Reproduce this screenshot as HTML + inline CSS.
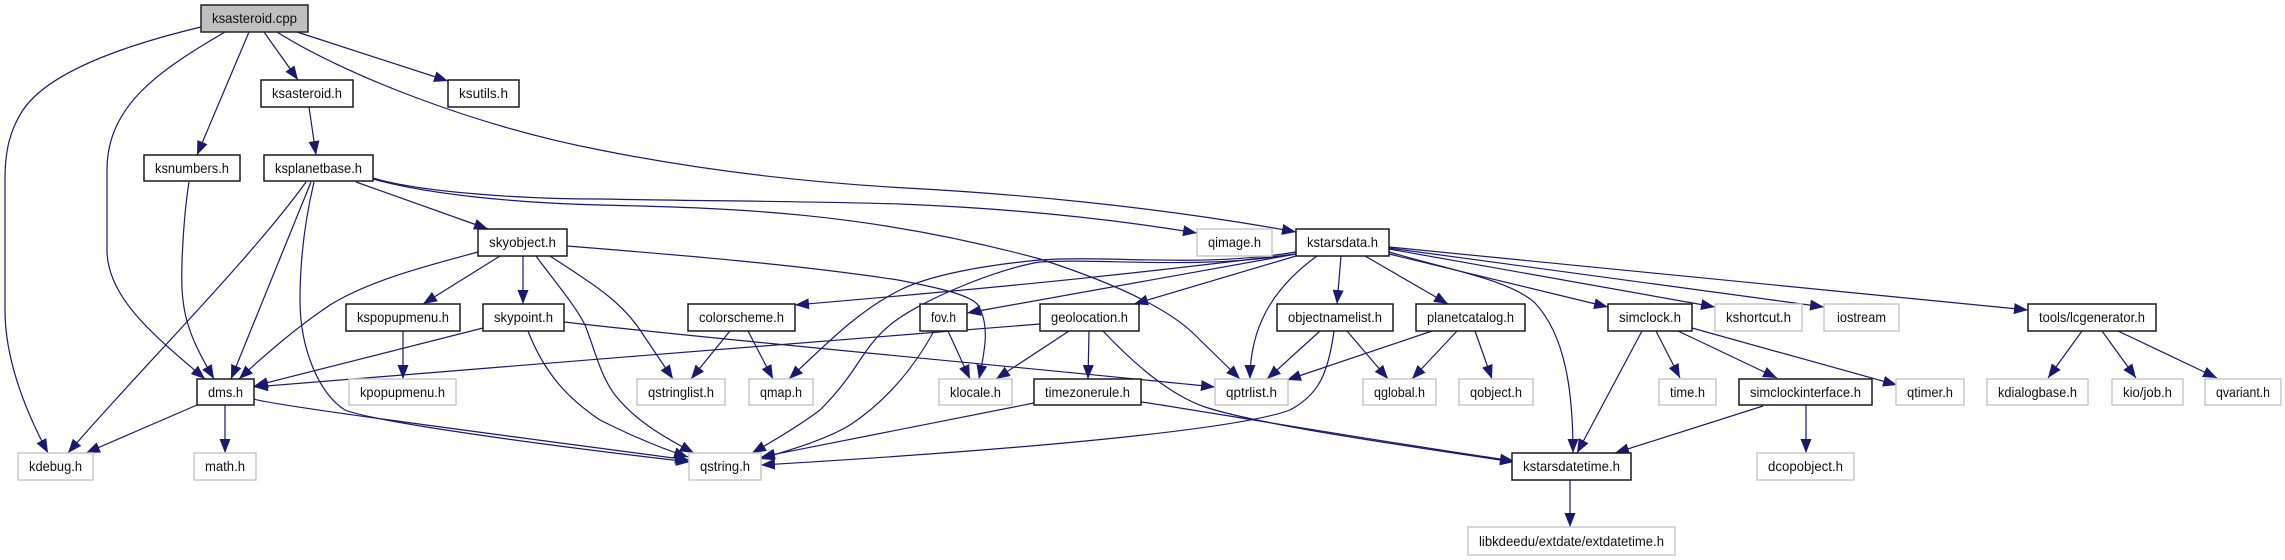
<!DOCTYPE html>
<html><head><meta charset="utf-8"><title>ksasteroid.cpp</title>
<style>html,body{margin:0;padding:0;background:#fff;width:2285px;height:560px;overflow:hidden}
svg{display:block}
.e path{fill:none;stroke:#191970;stroke-width:1.2;marker-end:url(#a)}
.d{fill:#fff;stroke:#1a1a1a;stroke-width:1.5}
.g{fill:#fff;stroke:#c8c8c8;stroke-width:1.5}
.r{fill:#bfbfbf;stroke:#222;stroke-width:1.5}
text{font-family:"Liberation Sans",sans-serif;font-size:14px;fill:#111;text-anchor:middle}
</style></head><body>
<svg xmlns="http://www.w3.org/2000/svg" width="2285" height="560" viewBox="0 0 2285 560">
<defs><marker id="a" markerUnits="userSpaceOnUse" markerWidth="15" markerHeight="12" refX="14" refY="5.500" orient="auto"><path d="M0,0L14,5.500L0,11z" fill="#191970"/></marker></defs>
<g class="e">
<path d="M201,27C130,44 50,70 23,110C10,130 5,150 5,180L5,310C5,360 25,410 48,453"/>
<path d="M225,32C160,70 107,105 107,170L107,250C107,300 160,340 205,379"/>
<path d="M249,32L197,155"/>
<path d="M264,32L298,80"/>
<path d="M297,32L448,81"/>
<path d="M277,32C340,72 470,125 600,150C700,170 800,182 906,188C1000,193 1150,205 1296,232"/>
<path d="M309,107L316,155"/>
<path d="M189,182C183,220 180,280 183,300C186,330 200,355 214,379"/>
<path d="M356,182L488,229"/>
<path d="M306,182C250,260 130,380 68,453"/>
<path d="M311,182L231,379"/>
<path d="M314,182C305,220 300,260 300,300C300,350 320,395 345,410C370,420 500,440 690,462"/>
<path d="M373,178C420,192 520,199 600,199C700,201 800,201 900,204C1000,208 1100,217 1197,233"/>
<path d="M373,179C430,195 520,203 600,205C720,208 860,210 1040,259C1120,285 1170,310 1195,335L1240,379"/>
<path d="M478,252C430,265 370,280 330,305C300,325 270,350 239,379"/>
<path d="M500,256L423,304"/>
<path d="M523,256L523,304"/>
<path d="M536,256C555,282 575,305 585,325C595,350 600,375 615,395C635,420 660,435 694,453"/>
<path d="M550,256C590,282 620,300 640,330L673,379"/>
<path d="M567,246C680,255 800,265 898,280C940,288 970,295 978,305C990,325 985,350 979,379"/>
<path d="M403,331L403,379"/>
<path d="M483,328L254,386"/>
<path d="M564,322C700,338 1000,365 1215,387"/>
<path d="M528,331C545,375 570,400 600,420C630,435 660,448 688,457"/>
<path d="M197,405L86,453"/>
<path d="M225,405L225,453"/>
<path d="M254,399C270,405 500,435 689,460"/>
<path d="M1296,254C1200,265 1100,279 795,305"/>
<path d="M1296,252C1200,268 1110,255 1040,260C985,265 930,275 900,290C860,310 830,340 789,379"/>
<path d="M1296,254C1200,270 1100,258 1040,262C1000,268 920,300 890,325C860,350 860,370 820,410C800,425 775,440 752,453"/>
<path d="M1296,254L967,313"/>
<path d="M1296,256L1134,304"/>
<path d="M1317,256C1270,290 1250,330 1250,379"/>
<path d="M1341,256L1337,304"/>
<path d="M1365,256L1448,304"/>
<path d="M1389,254L1608,307"/>
<path d="M1389,252C1450,270 1510,280 1535,303C1565,335 1573,390 1573,453"/>
<path d="M1389,249L1715,307"/>
<path d="M1389,248L1824,307"/>
<path d="M1389,247L2028,310"/>
<path d="M1320,331L1267,379"/>
<path d="M1347,331L1388,379"/>
<path d="M1334,331C1328,375 1318,395 1290,410C1250,425 1100,445 761,465"/>
<path d="M1432,331L1287,380"/>
<path d="M1457,331L1412,379"/>
<path d="M1475,331L1492,379"/>
<path d="M1642,331L1577,453"/>
<path d="M1656,331L1680,378"/>
<path d="M1678,331L1777,378"/>
<path d="M1692,328L1897,385"/>
<path d="M1763,406L1615,453"/>
<path d="M1806,405L1806,453"/>
<path d="M1040,324C800,345 500,365 254,387"/>
<path d="M1069,331L996,379"/>
<path d="M1089,331L1088,379"/>
<path d="M1103,331C1135,365 1170,395 1205,407C1260,425 1400,445 1514,462"/>
<path d="M1034,403L761,457"/>
<path d="M1141,402C1160,404 1400,445 1514,461"/>
<path d="M730,331L691,379"/>
<path d="M748,331L773,379"/>
<path d="M948,331L970,379"/>
<path d="M934,331C910,375 880,405 850,425C825,440 790,450 760,459"/>
<path d="M1570,480L1570,527"/>
<path d="M2082,331L2048,378"/>
<path d="M2102,331L2136,378"/>
<path d="M2118,331L2217,378"/>
</g>
<g>
<rect class="r" x="201" y="5" width="107" height="27"/><text lengthAdjust="spacingAndGlyphs" x="254.500" y="23" textLength="85">ksasteroid.cpp</text>
<rect class="d" x="261" y="80" width="92" height="27"/><text lengthAdjust="spacingAndGlyphs" x="307" y="98" textLength="70">ksasteroid.h</text>
<rect class="d" x="448" y="80" width="71" height="27"/><text lengthAdjust="spacingAndGlyphs" x="483.500" y="98" textLength="49">ksutils.h</text>
<rect class="d" x="144" y="155" width="96" height="26"/><text lengthAdjust="spacingAndGlyphs" x="192" y="173" textLength="74">ksnumbers.h</text>
<rect class="d" x="264" y="155" width="109" height="26"/><text lengthAdjust="spacingAndGlyphs" x="318.500" y="173" textLength="87">ksplanetbase.h</text>
<rect class="d" x="478" y="229" width="89" height="27"/><text lengthAdjust="spacingAndGlyphs" x="522.500" y="247" textLength="67">skyobject.h</text>
<rect class="d" x="346" y="304" width="114" height="27"/><text lengthAdjust="spacingAndGlyphs" x="403" y="322" textLength="92">kspopupmenu.h</text>
<rect class="d" x="483" y="304" width="81" height="27"/><text lengthAdjust="spacingAndGlyphs" x="523.500" y="322" textLength="59">skypoint.h</text>
<rect class="d" x="197" y="379" width="57" height="26"/><text lengthAdjust="spacingAndGlyphs" x="225.500" y="397" textLength="35">dms.h</text>
<rect class="g" x="349" y="379" width="107" height="26"/><text lengthAdjust="spacingAndGlyphs" x="402.500" y="397" textLength="85">kpopupmenu.h</text>
<rect class="g" x="18" y="453" width="75" height="27"/><text lengthAdjust="spacingAndGlyphs" x="55.500" y="471" textLength="53">kdebug.h</text>
<rect class="g" x="194" y="453" width="62" height="27"/><text lengthAdjust="spacingAndGlyphs" x="225" y="471" textLength="40">math.h</text>
<rect class="d" x="688" y="304" width="107" height="27"/><text lengthAdjust="spacingAndGlyphs" x="741.500" y="322" textLength="85">colorscheme.h</text>
<rect class="d" x="920" y="304" width="47" height="27"/><text lengthAdjust="spacingAndGlyphs" x="943.500" y="322" textLength="25">fov.h</text>
<rect class="d" x="1040" y="304" width="99" height="27"/><text lengthAdjust="spacingAndGlyphs" x="1089.500" y="322" textLength="77">geolocation.h</text>
<rect class="g" x="637" y="379" width="88" height="26"/><text lengthAdjust="spacingAndGlyphs" x="681" y="397" textLength="66">qstringlist.h</text>
<rect class="g" x="749" y="379" width="64" height="26"/><text lengthAdjust="spacingAndGlyphs" x="781" y="397" textLength="42">qmap.h</text>
<rect class="g" x="939" y="379" width="73" height="26"/><text lengthAdjust="spacingAndGlyphs" x="975.500" y="397" textLength="51">klocale.h</text>
<rect class="d" x="1034" y="379" width="107" height="26"/><text lengthAdjust="spacingAndGlyphs" x="1087.500" y="397" textLength="85">timezonerule.h</text>
<rect class="g" x="689" y="453" width="72" height="27"/><text lengthAdjust="spacingAndGlyphs" x="725" y="471" textLength="50">qstring.h</text>
<rect class="g" x="1197" y="229" width="75" height="27"/><text lengthAdjust="spacingAndGlyphs" x="1234.500" y="247" textLength="53">qimage.h</text>
<rect class="d" x="1296" y="229" width="93" height="27"/><text lengthAdjust="spacingAndGlyphs" x="1342.500" y="247" textLength="71">kstarsdata.h</text>
<rect class="d" x="1277" y="304" width="116" height="27"/><text lengthAdjust="spacingAndGlyphs" x="1335" y="322" textLength="94">objectnamelist.h</text>
<rect class="d" x="1416" y="304" width="109" height="27"/><text lengthAdjust="spacingAndGlyphs" x="1470.500" y="322" textLength="87">planetcatalog.h</text>
<rect class="d" x="1608" y="304" width="84" height="27"/><text lengthAdjust="spacingAndGlyphs" x="1650" y="322" textLength="62">simclock.h</text>
<rect class="g" x="1715" y="304" width="87" height="27"/><text lengthAdjust="spacingAndGlyphs" x="1758.500" y="322" textLength="65">kshortcut.h</text>
<rect class="g" x="1824" y="304" width="75" height="27"/><text lengthAdjust="spacingAndGlyphs" x="1861.500" y="322" textLength="49">iostream</text>
<rect class="d" x="2028" y="304" width="128" height="27"/><text lengthAdjust="spacingAndGlyphs" x="2092" y="322" textLength="106">tools/lcgenerator.h</text>
<rect class="g" x="1215" y="379" width="73" height="26"/><text lengthAdjust="spacingAndGlyphs" x="1251.500" y="397" textLength="51">qptrlist.h</text>
<rect class="g" x="1363" y="379" width="73" height="26"/><text lengthAdjust="spacingAndGlyphs" x="1399.500" y="397" textLength="51">qglobal.h</text>
<rect class="g" x="1459" y="379" width="74" height="26"/><text lengthAdjust="spacingAndGlyphs" x="1496" y="397" textLength="52">qobject.h</text>
<rect class="g" x="1659" y="379" width="57" height="26"/><text lengthAdjust="spacingAndGlyphs" x="1687.500" y="397" textLength="35">time.h</text>
<rect class="d" x="1739" y="379" width="133" height="26"/><text lengthAdjust="spacingAndGlyphs" x="1805.500" y="397" textLength="111">simclockinterface.h</text>
<rect class="g" x="1896" y="379" width="68" height="26"/><text lengthAdjust="spacingAndGlyphs" x="1930" y="397" textLength="46">qtimer.h</text>
<rect class="g" x="1987" y="379" width="101" height="26"/><text lengthAdjust="spacingAndGlyphs" x="2037.500" y="397" textLength="79">kdialogbase.h</text>
<rect class="g" x="2112" y="379" width="71" height="26"/><text lengthAdjust="spacingAndGlyphs" x="2147.500" y="397" textLength="49">kio/job.h</text>
<rect class="g" x="2205" y="379" width="76" height="26"/><text lengthAdjust="spacingAndGlyphs" x="2243" y="397" textLength="54">qvariant.h</text>
<rect class="d" x="1512" y="453" width="119" height="27"/><text lengthAdjust="spacingAndGlyphs" x="1571.500" y="471" textLength="97">kstarsdatetime.h</text>
<rect class="g" x="1757" y="453" width="97" height="27"/><text lengthAdjust="spacingAndGlyphs" x="1805.500" y="471" textLength="75">dcopobject.h</text>
<rect class="g" x="1468" y="527" width="207" height="28"/><text lengthAdjust="spacingAndGlyphs" x="1571.500" y="546" textLength="185">libkdeedu/extdate/extdatetime.h</text>
</g>
</svg>
</body></html>
